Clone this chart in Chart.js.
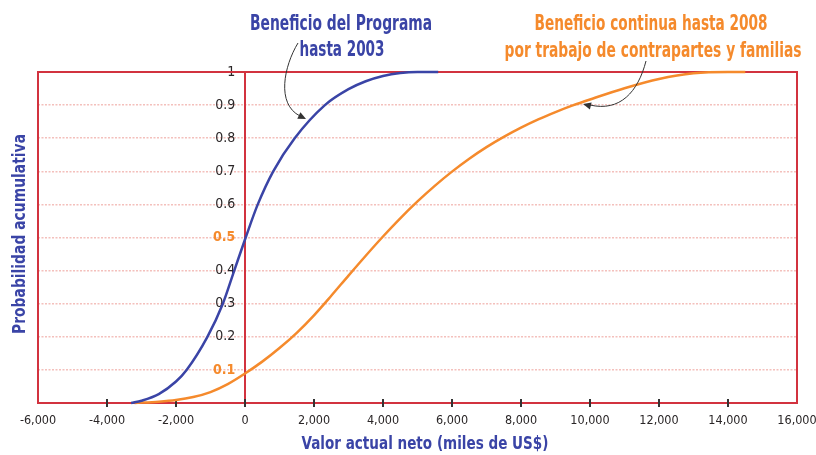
<!DOCTYPE html>
<html><head><meta charset="utf-8">
<script src="https://cdn.jsdelivr.net/npm/chart.js@4/dist/chart.umd.min.js"></script>
<style>html,body{margin:0;padding:0;background:#fff}#wrap{width:816px;height:455px}</style>
</head><body><div id="wrap"><canvas id="c" width="816" height="455"></canvas></div>
<script>
// ---- data ----
const blueX = [-3300,-3000,-2500,-2000,-1693,-1090,-642,-312,20,370,818,1440,2316,3000,3500,4000,4500,5000,5600];
const blueY = [0,0.007,0.027,0.065,0.1,0.2,0.3,0.4,0.5,0.6,0.7,0.8,0.9,0.948,0.972,0.988,0.997,1.0,1.0];
const orangeX = [-3200,-2500,-2000,-1500,-1000,-500,0,500,1000,1500,2000,2500,3000,3500,4000,4500,5000,5500,6000,6500,7000,7500,8000,8500,9000,9500,10000,11000,12000,13000,14000,14500];
const orangeY = [0,0.004,0.009,0.018,0.033,0.057,0.089,0.125,0.166,0.212,0.265,0.324,0.385,0.445,0.503,0.558,0.609,0.656,0.699,0.738,0.773,0.804,0.832,0.857,0.879,0.899,0.917,0.951,0.979,0.996,1.0,1.0];
const xMin = -6000, xMax = 16000, xStep = 2000;
const yMin = 0, yMax = 1, yStep = 0.1;
const highlightYTicks = [0.1, 0.5];
const blueNote = ['Beneficio del Programa', 'hasta 2003'];
const orangeNote = ['Beneficio continua hasta 2008', 'por trabajo de contrapartes y familias'];
const xTitle = 'Valor actual neto (miles de US$)';
const yTitle = 'Probabilidad acumulativa';

// ---- styles ----
const FONT = '"Liberation Sans Narrow", "DejaVu Sans Condensed", "Arial Narrow", sans-serif';
const BLUE = '#3a44a6';
const ORANGE = '#f58a2c';
const RED = '#d2333f';
const GRID = 'rgba(240,165,160,0.7)';
const TXT = '#2a2627';

const toPts = (xs, ys) => xs.map((x, i) => ({x, y: ys[i]}));
const isHi = c => !!(c && c.tick) && highlightYTicks.some(h => Math.abs(h - c.tick.value) < 1e-6);

function fitText(ctx, text, cx, cy, w, font, color, rot) {
  ctx.save();
  ctx.font = font;
  const m = ctx.measureText(text).width;
  ctx.translate(cx, cy);
  if (rot) ctx.rotate(rot);
  ctx.scale(w / m, 1);
  ctx.textAlign = 'center';
  ctx.textBaseline = 'alphabetic';
  ctx.fillStyle = color;
  ctx.fillText(text, 0, 0);
  ctx.restore();
}

function arrowHead(ctx, tipX, tipY, fromX, fromY) {
  const a = Math.atan2(tipY - fromY, tipX - fromX);
  const L = 8, W = 3.6;
  ctx.beginPath();
  ctx.moveTo(tipX, tipY);
  ctx.lineTo(tipX - L * Math.cos(a) + W * Math.sin(a), tipY - L * Math.sin(a) - W * Math.cos(a));
  ctx.lineTo(tipX - L * Math.cos(a) - W * Math.sin(a), tipY - L * Math.sin(a) + W * Math.cos(a));
  ctx.closePath();
  ctx.fill();
}

const framePlugin = {
  id: 'frame',
  beforeDatasetsDraw(chart) {
    const {ctx, chartArea: a, scales} = chart;
    ctx.save();
    ctx.strokeStyle = RED;
    ctx.lineWidth = 2;
    ctx.strokeRect(a.left, a.top, a.right - a.left, a.bottom - a.top);
    const x0 = scales.x.getPixelForValue(0);
    ctx.beginPath();
    ctx.moveTo(x0, a.top); ctx.lineTo(x0, a.bottom);
    ctx.stroke();
    ctx.strokeStyle = '#333';
    ctx.lineWidth = 2;
    scales.x.ticks.forEach(t => {
      if (t.value <= xMin || t.value >= xMax) return;
      const px = scales.x.getPixelForValue(t.value);
      ctx.beginPath();
      ctx.moveTo(px, a.bottom - 4); ctx.lineTo(px, a.bottom + 4);
      ctx.stroke();
    });
    ctx.restore();
  },
  afterDraw(chart) {
    const {ctx} = chart;
    const f = 'bold 21px ' + FONT;
    fitText(ctx, blueNote[0], 341, 30, 182, f, BLUE);
    fitText(ctx, blueNote[1], 342, 56, 85, f, BLUE);
    fitText(ctx, orangeNote[0], 651, 30, 233, f, ORANGE);
    fitText(ctx, orangeNote[1], 653, 57, 297, f, ORANGE);
    const ft = 'bold 18px ' + FONT;
    fitText(ctx, xTitle, 425, 449, 247, ft, BLUE);
    fitText(ctx, yTitle, 25, 234, 200, ft, BLUE, -Math.PI / 2);
    ctx.save();
    ctx.strokeStyle = '#333';
    ctx.fillStyle = '#333';
    ctx.lineWidth = 1;
    ctx.beginPath();
    ctx.moveTo(298, 43);
    ctx.bezierCurveTo(284, 66, 276, 104, 300, 116);
    ctx.stroke();
    arrowHead(ctx, 306, 119, 298, 115);
    ctx.beginPath();
    ctx.moveTo(646, 61);
    ctx.bezierCurveTo(638, 92, 620, 112, 590, 105);
    ctx.stroke();
    arrowHead(ctx, 583, 104, 591, 106);
    ctx.restore();
  }
};

new Chart(document.getElementById('c'), {
  type: 'line',
  data: {
    datasets: [
      {data: toPts(blueX, blueY), borderColor: BLUE, borderWidth: 2.5, pointRadius: 0, cubicInterpolationMode: 'monotone', fill: false, clip: false},
      {data: toPts(orangeX, orangeY), borderColor: ORANGE, borderWidth: 2.5, pointRadius: 0, cubicInterpolationMode: 'monotone', fill: false, clip: false}
    ]
  },
  options: {
    responsive: false,
    animation: false,
    devicePixelRatio: 1,
    layout: {padding: {left: 38, right: 19, top: 72, bottom: 0}},
    plugins: {legend: {display: false}, tooltip: {enabled: false}, title: {display: false}},
    scales: {
      x: {
        type: 'linear', min: xMin, max: xMax,
        grid: {display: false, drawTicks: false},
        border: {display: false},
        ticks: {
          stepSize: xStep, padding: 10, color: TXT, maxRotation: 0, autoSkip: false,
          font: {family: FONT, size: 12.5},
          callback: v => v.toLocaleString('en-US')
        },
        afterFit: s => { s.height = 52; s.paddingLeft = 0; s.paddingRight = 0; }
      },
      y: {
        type: 'linear', min: yMin, max: yMax,
        position: {x: -280},
        border: {display: false, dash: [2, 1.5]},
        grid: {
          drawTicks: false, lineWidth: 1.5,
          color: c => (c && c.tick && (c.tick.value <= 0 || c.tick.value >= 1)) ? 'rgba(0,0,0,0)' : GRID
        },
        ticks: {
          stepSize: yStep, padding: 0,
          color: c => isHi(c) ? ORANGE : TXT,
          font: c => ({family: FONT, size: 14, weight: isHi(c) ? 'bold' : 'normal'}),
          callback: v => v === 0 ? '' : String(Math.round(v * 10) / 10)
        }
      }
    }
  },
  plugins: [framePlugin]
});
</script>
</body></html>
